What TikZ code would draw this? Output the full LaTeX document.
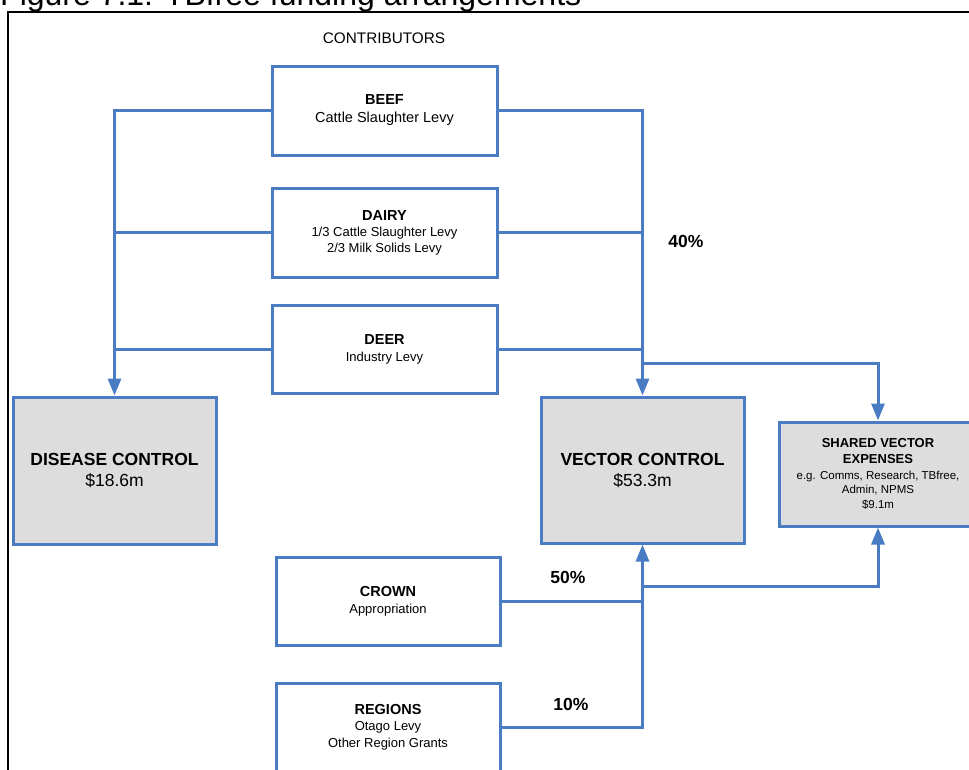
\documentclass[tikz,border=0pt]{standalone}
\usepackage{fontspec}
\setmainfont{Liberation Sans}
\usetikzlibrary{arrows.meta}
\usetikzlibrary{positioning}
\usetikzlibrary{calc}
\definecolor{linkblue}{HTML}{4A7CC4}
\definecolor{ctrlgray}{HTML}{DDDDDD}
\newcommand{\hdfont}{\fontsize{14.5}{17}\selectfont\bfseries}
\newcommand{\shfont}{\fontsize{13}{16}\selectfont\bfseries}

\begin{document}
\begin{tikzpicture}[x=1pt, y=-1pt,
  every node/.style={inner sep=0pt, align=center},
  box/.style={rectangle, draw=linkblue, line width=3pt, minimum width=225pt, minimum height=89pt, font=\fontsize{13}{17}\selectfont},
  ctrl/.style={box, fill=ctrlgray, minimum width=203pt, minimum height=147pt, font=\fontsize{17.5}{21}\selectfont},
  link/.style={draw=linkblue, line width=3pt},
  feed/.style={link, -{Triangle[width=13pt,length=17pt]}},
  pct/.style={font=\fontsize{17.5}{20}\selectfont\bfseries}]

      \path[use as bounding box] (0,0) rectangle (969,769);
      \clip (0,0) rectangle (969,769);

      \node[anchor=base west, font=\fontsize{32}{32}\selectfont] (title) at (0,5.5) {Figure 7.1: TBfree funding arrangements};
      \draw[line width=2pt] (8,12) rectangle (1000,800);

      \node[font=\fontsize{15.3}{18}\selectfont] (contrib) at (384,38) {CONTRIBUTORS};

      % contributors
      \node[box, font=\fontsize{14.5}{18}\selectfont] (beef) at (384.5,110.5) {{\hdfont BEEF}\\Cattle Slaughter Levy};
      \node[box, font=\fontsize{13}{16}\selectfont] (dairy) at (384.5,232.5) {{\hdfont DAIRY}\\1/3 Cattle Slaughter Levy\\2/3 Milk Solids Levy};
      \node[box, minimum height=88pt] (deer) at (384.5,349) {{\hdfont DEER}\\Industry Levy};
      \node[box, minimum width=224pt, minimum height=88pt] (crown) at (388,601) {{\hdfont CROWN}\\Appropriation};
      \node[box, minimum width=224pt, minimum height=88pt, font=\fontsize{13}{16.5}\selectfont] (regions) at (388,727) {{\hdfont REGIONS}\\Otago Levy\\Other Region Grants};

      % programmes
      \node[ctrl] (disease) at (114.5,470.5) {\textbf{DISEASE CONTROL}\\\$18.6m};
      \node[ctrl, minimum height=146pt] (vector) at (642.5,470) {\textbf{VECTOR CONTROL}\\\$53.3m};
      \node[ctrl, minimum width=198pt, minimum height=104pt, font=\fontsize{11.5}{14}\selectfont] (shared) at (878,474)
        {{\shfont SHARED VECTOR}\\[2pt]{\shfont EXPENSES}\\[1.5pt]e.g. Comms, Research, TBfree,\\Admin, NPMS\\[1pt]\$9.1m};

      \coordinate (vsplit) at (642.5,363);
      \coordinate (bsplit) at (642.5,586);

      \draw[feed] (beef.west) -| (disease.north);
      \draw[link] (dairy.west) -- (dairy.west -| disease.north);
      \draw[link] (deer.west) -- (deer.west -| disease.north);

      \draw[feed] (beef.east) -| (vector.north);
      \draw[link] (dairy.east) -- (dairy.east -| vector.north);
      \draw[link] (deer.east) -- (deer.east -| vector.north);
      \draw[feed] (vsplit) -| (shared.north);

      \draw[feed] (regions.east) -| (vector.south);
      \draw[link] (crown.east) -- (crown.east -| vector.south);
      \draw[feed] (bsplit) -| (shared.south);

      \node[pct] (p40) at (686,241) {40\%};
      \node[pct] (p50) at (568,577) {50\%};
      \node[pct] (p10) at (571,704) {10\%};
    \end{tikzpicture}
\end{document}
